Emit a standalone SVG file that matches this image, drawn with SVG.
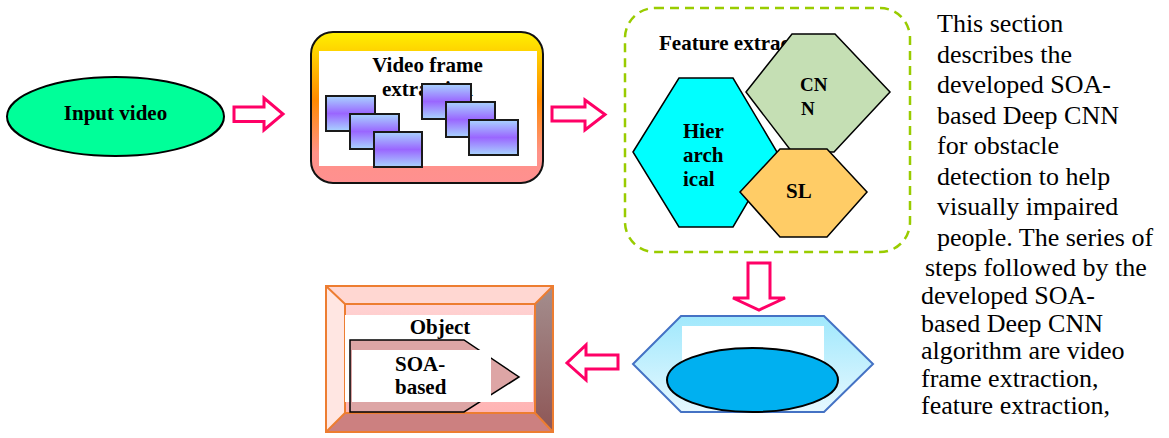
<svg xmlns="http://www.w3.org/2000/svg" width="1169" height="438" viewBox="0 0 1169 438">
<style>
.lbl{font-family:"Liberation Serif","Times New Roman",serif;font-weight:bold;font-size:21px;fill:#000}
.sm{font-size:19px}
.para{font-family:"Liberation Serif","Times New Roman",serif;font-size:26px;fill:#000}
.frm{fill:url(#gFrame);stroke:#1a1a1a;stroke-width:2}
.hex{stroke:#000;stroke-width:1.5}
.arr{fill:#fff;stroke:#FF0066;stroke-width:3;stroke-linejoin:miter}
</style>
<defs>
<linearGradient id="gFrame" x1="0" y1="0" x2="0" y2="1">
<stop offset="0" stop-color="#A8D4FF"/>
<stop offset="0.5" stop-color="#9A66FF"/>
<stop offset="1" stop-color="#A8D4FF"/>
</linearGradient>
<linearGradient id="gVideo" x1="0" y1="0" x2="0" y2="1">
<stop offset="0" stop-color="#FFF000"/>
<stop offset="0.45" stop-color="#FF8A00"/>
<stop offset="0.8" stop-color="#FF9288"/>
<stop offset="1" stop-color="#FF9090"/>
</linearGradient>
<linearGradient id="gBlue" x1="0" y1="0" x2="0" y2="1">
<stop offset="0" stop-color="#A0E8FC"/>
<stop offset="1" stop-color="#E6F8FF"/>
</linearGradient>
<linearGradient id="gRight" x1="0" y1="0" x2="0" y2="1">
<stop offset="0" stop-color="#A48E8E"/>
<stop offset="1" stop-color="#8E5656"/>
</linearGradient>
<linearGradient id="gInner" x1="0" y1="0" x2="0" y2="1">
<stop offset="0" stop-color="#FFD2D2"/>
<stop offset="1" stop-color="#FFB4B4"/>
</linearGradient>
</defs>

<g id="input-video">
<ellipse cx="115.5" cy="116.5" rx="108.5" ry="39.5" fill="#00FF99" stroke="#000" stroke-width="2"/>
<text class="lbl" x="115.5" y="120" text-anchor="middle">Input video</text>
</g>

<g id="video-frame-extraction">
<rect x="311" y="32" width="232" height="151" rx="22" fill="url(#gVideo)" stroke="#111" stroke-width="2"/>
<rect x="319" y="51" width="218" height="115" fill="#fff"/>
<text class="lbl" x="427.5" y="72" text-anchor="middle">Video frame</text>
<text class="lbl" x="427.5" y="96" text-anchor="middle">extraction</text>
<rect class="frm" x="326" y="96" width="49" height="35"/>
<rect class="frm" x="350" y="114" width="49" height="35"/>
<rect class="frm" x="374" y="132" width="48" height="35"/>
<rect class="frm" x="422" y="84" width="49" height="35"/>
<rect class="frm" x="446" y="102" width="49" height="35"/>
<rect class="frm" x="469" y="120" width="49" height="35"/>
</g>

<g id="feature-extraction">
<rect x="625" y="8" width="285" height="244" rx="30" fill="#fff" stroke="#99CC00" stroke-width="2.5" stroke-dasharray="9 6"/>
<text class="lbl" x="659" y="50">Feature extraction</text>
<polygon class="hex" points="633,152 679,78 733,78 777,152 733,227 679,227" fill="#00FFFF"/>
<polygon class="hex" points="746,92 792,34 835,34 890,92 834,152 792,152" fill="#C5DFB4"/>
<polygon class="hex" points="740,192 780,149 827,149 867,192 827,237 780,237" fill="#FFCC66"/>
<text class="lbl" x="683" y="138">Hier</text>
<text class="lbl" x="683" y="162">arch</text>
<text class="lbl" x="683" y="186">ical</text>
<text class="lbl sm" x="800" y="91">CN</text>
<text class="lbl sm" x="801" y="115">N</text>
<text class="lbl" x="786" y="198">SL</text>
</g>

<g id="classifier">
<polygon points="633,364 681,316 824,316 873,364 824,412 681,412" fill="url(#gBlue)" stroke="#4472C4" stroke-width="2"/>
<rect x="682" y="326" width="142" height="74" fill="#fff"/>
<ellipse cx="752.5" cy="380" rx="85.5" ry="32" fill="#00B0F0" stroke="#000" stroke-width="2"/>
</g>

<g id="object-detection">
<rect x="326" y="286" width="227" height="146" fill="#FFD7D2"/>
<polygon points="326,286 345,304 345,413 326,432" fill="#FFE6E2"/>
<polygon points="553,286 553,432 535,413 535,304" fill="url(#gRight)"/>
<polygon points="326,432 345,413 535,413 553,432" fill="#CC8080"/>
<rect x="345" y="304" width="190" height="109" fill="url(#gInner)"/>
<g fill="none" stroke="#ED7D31" stroke-width="2">
<rect x="326" y="286" width="227" height="146"/>
<rect x="345" y="304" width="190" height="109"/>
<path d="M326,286 L345,304 M553,286 L535,304 M553,432 L535,413 M326,432 L345,413"/>
</g>
<rect x="345" y="315" width="188" height="87" fill="#fff"/>
<text class="lbl" x="440" y="334" text-anchor="middle">Object</text>
<polygon points="350,340 464,340 519,377 464,412 350,412" fill="#DDA5A5" stroke="#000" stroke-width="1.5"/>
<rect x="352" y="350" width="139" height="52" fill="#fff"/>
<text class="lbl" x="395" y="371">SOA-</text>
<text class="lbl" x="395" y="394">based</text>
</g>

<g id="connectors">
<path class="arr" d="M234,107 H264 V98 L283,114 L264,130 V121.5 H234 Z"/>
<path class="arr" d="M552,107 H585 V100 L605,114.5 L585,130 V121 H552 Z"/>
<path class="arr" d="M748,263 H770 V298 H785 L759,310 L733,298 H748 Z"/>
<path class="arr" d="M618,355 H586 V345 L567,363 L586,380 V369 H618 Z"/>
</g>

<g id="paragraph" class="para">
<text x="937" y="32">This section</text>
<text x="937" y="62.5">describes the</text>
<text x="937" y="93">developed SOA-</text>
<text x="937" y="123.5">based Deep CNN</text>
<text x="937" y="154">for obstacle</text>
<text x="937" y="184.5">detection to help</text>
<text x="937" y="215">visually impaired</text>
<text x="937" y="245.5">people. The series of</text>
<text x="925" y="276">steps followed by the</text>
<text x="921" y="304">developed SOA-</text>
<text x="921" y="331.5">based Deep CNN</text>
<text x="921" y="359">algorithm are video</text>
<text x="921" y="386.5">frame extraction,</text>
<text x="921" y="414">feature extraction,</text>
</g>
</svg>
